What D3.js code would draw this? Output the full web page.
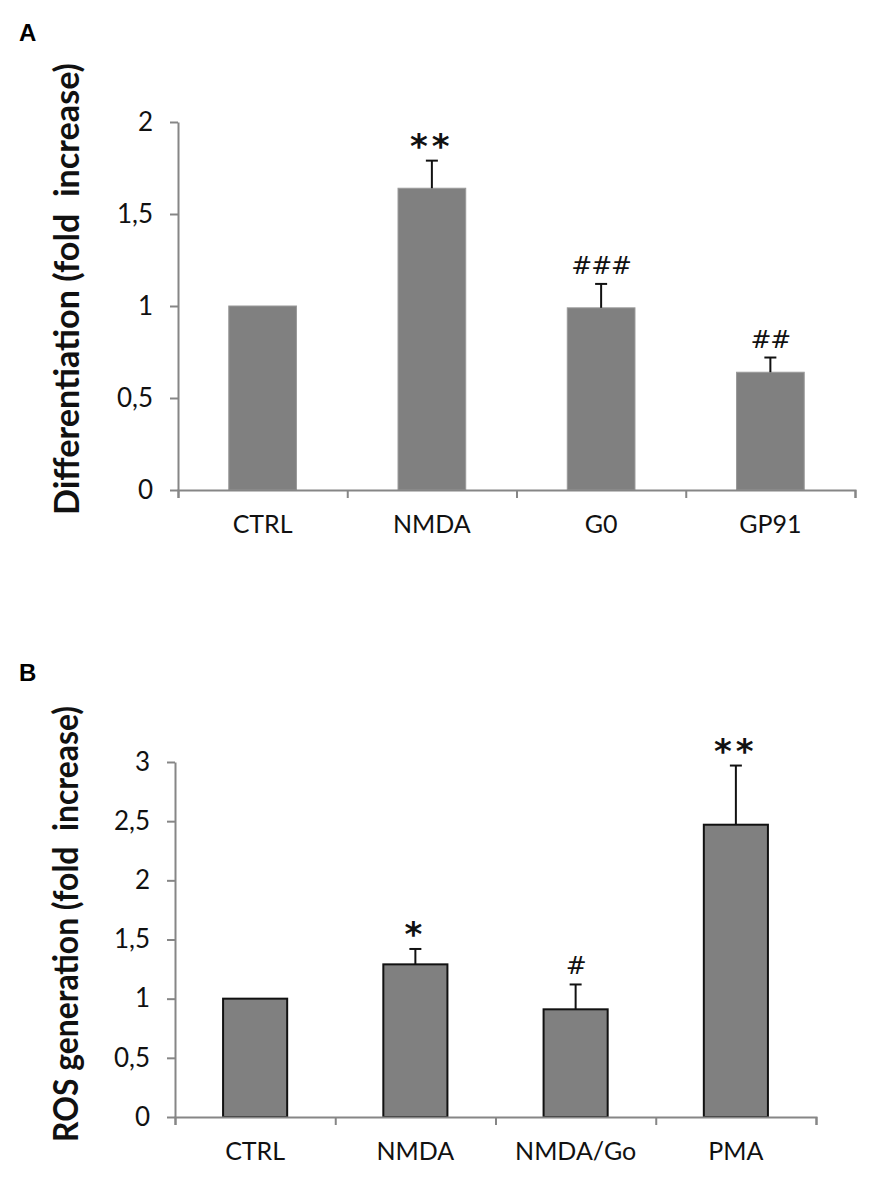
<!DOCTYPE html>
<html>
<head>
<meta charset="utf-8">
<script src="https://cdn.jsdelivr.net/npm/d3@7"></script>
<style>
  body { margin: 0; background: #fff; }
  svg { display: block; font-family: Lato, "Open Sans", sans-serif; }
</style>
</head>
<body>
<svg id="fig" width="892" height="1192"></svg>
<script>
// Panel A data
const catsA = ["CTRL", "NMDA", "G0", "GP91"]
const valsA = [1.0, 1.64, 0.99, 0.64]
const errA = [0, 0.15, 0.13, 0.08]
const marksA = ["", "**", "###", "##"]
const ticksA = [0, 0.5, 1, 1.5, 2]

// Panel B data
const catsB = ["CTRL", "NMDA", "NMDA/Go", "PMA"]
const valsB = [1.0, 1.29, 0.91, 2.47]
const errB = [0, 0.13, 0.21, 0.50]
const marksB = ["", "*", "#", "**"]
const ticksB = [0, 0.5, 1, 1.5, 2, 2.5, 3]

const svg = d3.select("#fig")
const axisColor = "#868686"

function panel(opt) {
	let g = svg.append("g")

	// panel letter
	g.append("text")
		.attr("x", 19).attr("y", opt.letterY)
		.attr("font-family", "Liberation Sans, Arial, sans-serif")
		.attr("font-weight", "bold").attr("font-size", 24)
		.text(opt.letter)

	let y = d3.scaleLinear()
		.domain([0, d3.max(opt.ticks)])
		.range([opt.bottom, opt.top])

	let x = d3.scaleBand()
		.domain(opt.cats)
		.range([opt.left, opt.right])
		.paddingInner(0.6).paddingOuter(0.3)

	let edges = d3.scaleLinear()
		.domain([0, opt.cats.length])
		.range([opt.left, opt.right])

	// y axis
	let ya = g.append("g")
		.attr("transform", `translate(${opt.left},0)`)
		.call(d3.axisLeft(y).tickValues(opt.ticks).tickSize(8).tickSizeOuter(0)
			.tickFormat(d => String(d).replace(".", ",")))
	ya.select(".domain").attr("stroke", axisColor).attr("stroke-width", 2)
	ya.selectAll(".tick line").attr("stroke", axisColor).attr("stroke-width", 2)
	ya.selectAll(".tick text")
		.attr("font-family", "Lato, sans-serif")
		.attr("font-size", 26).attr("fill", "#111").attr("x", -25)

	// bars
	g.selectAll("rect.bar")
		.data(opt.vals)
		.join("rect")
		.attr("class", "bar")
		.attr("x", (d, i) => x(opt.cats[i]))
		.attr("width", x.bandwidth())
		.attr("y", d => y(d))
		.attr("height", d => y(0) - y(d))
		.attr("fill", "#808080")
		.attr("stroke", opt.barStroke)
		.attr("stroke-width", opt.barStrokeW)

	// error bars, upper only
	let eb = g.selectAll("g.err")
		.data(opt.vals.map((v, i) => ({v, e: opt.errs[i], c: opt.cats[i]})).filter(d => d.e > 0))
		.join("g").attr("class", "err")
		.attr("stroke", "#111").attr("stroke-width", 2)
	eb.append("line")
		.attr("x1", d => x(d.c) + x.bandwidth() / 2)
		.attr("x2", d => x(d.c) + x.bandwidth() / 2)
		.attr("y1", d => y(d.v)).attr("y2", d => y(d.v + d.e))
	eb.append("line")
		.attr("x1", d => x(d.c) + x.bandwidth() / 2 - 6)
		.attr("x2", d => x(d.c) + x.bandwidth() / 2 + 6)
		.attr("y1", d => y(d.v + d.e)).attr("y2", d => y(d.v + d.e))

	// significance marks
	g.selectAll("text.mark")
		.data(opt.marks)
		.join("text")
		.attr("class", "mark")
		.attr("x", (d, i) => x(opt.cats[i]) + x.bandwidth() / 2)
		.attr("y", (d, i) => y(opt.vals[i] + opt.errs[i]) - (d[0] === "*" ? 3 : 10))
		.attr("text-anchor", "middle")
		.attr("font-family", "DejaVu Sans, sans-serif")
		.attr("font-size", d => d[0] === "*" ? 34 : 25)
		.attr("font-weight", d => d[0] === "*" ? "bold" : "normal")
		.attr("letter-spacing", d => d[0] === "*" ? 4 : -1)
		.attr("fill", "#111")
		.text(d => d)

	// x axis: boundary ticks
	let xa = g.append("g")
		.attr("transform", `translate(0,${opt.bottom})`)
		.call(d3.axisBottom(edges).ticks(opt.cats.length).tickSize(8).tickSizeOuter(8).tickFormat(""))
	xa.select(".domain").attr("stroke", axisColor).attr("stroke-width", 2)
	xa.selectAll(".tick line").attr("stroke", axisColor).attr("stroke-width", 2)

	// category labels
	let xl = g.append("g")
		.attr("transform", `translate(0,${opt.bottom})`)
		.call(d3.axisBottom(x).tickSize(0).tickPadding(25))
	xl.select(".domain").remove()
	xl.selectAll("text")
		.attr("font-family", "Lato, sans-serif")
		.attr("font-size", 25).attr("fill", "#111")

	// y title
	g.append("text")
		.attr("transform", `translate(${opt.titleX},${(opt.titleY)}) rotate(-90)`)
		.attr("text-anchor", "middle")
		.attr("font-family", "Lato, sans-serif")
		.attr("font-weight", 700).attr("font-size", 34)
		.attr("fill", "#111")
		.attr("textLength", opt.titleLen)
		.attr("lengthAdjust", "spacingAndGlyphs")
		.text(opt.title)
}

panel({
	letter: "A", letterY: 41,
	cats: catsA, vals: valsA, errs: errA, marks: marksA, ticks: ticksA,
	left: 178, right: 855, top: 122, bottom: 490,
	barStroke: "#9a9a9a", barStrokeW: 1,
	title: "Differentiation (fold\u00a0 increase)", titleX: 79, titleY: 289, titleLen: 452
})

panel({
	letter: "B", letterY: 681,
	cats: catsB, vals: valsB, errs: errB, marks: marksB, ticks: ticksB,
	left: 175, right: 816, top: 762, bottom: 1117,
	barStroke: "#111", barStrokeW: 2,
	title: "ROS generation (fold\u00a0 increase)", titleX: 78, titleY: 924, titleLen: 436
})
</script>
</body>
</html>
